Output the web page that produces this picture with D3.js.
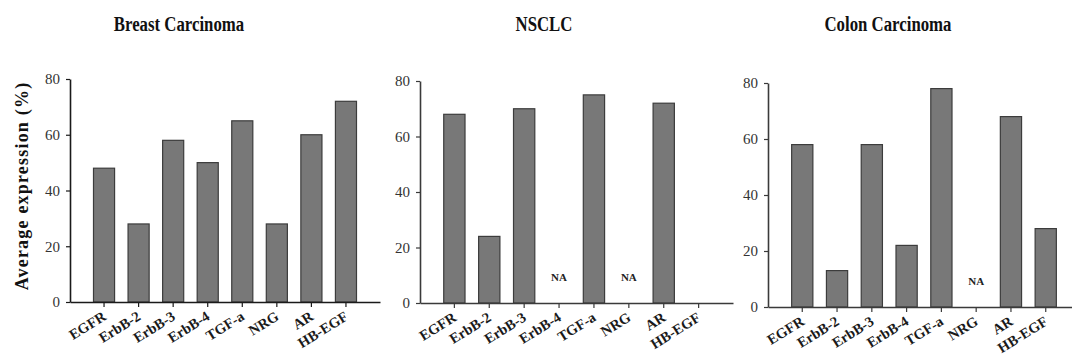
<!DOCTYPE html>
<html>
<head>
<meta charset="utf-8">
<script src="https://cdn.jsdelivr.net/npm/d3@7"></script>
<style>
  body { margin: 0; background: #fff; }
  svg { display: block; }
  text { font-family: "Liberation Serif", "DejaVu Serif", serif; }
</style>
</head>
<body>
<svg id="chart" width="1072" height="361"></svg>
<script>
// receptor / ligand categories
const markers = ["EGFR", "ErbB-2", "ErbB-3", "ErbB-4", "TGF-a", "NRG", "AR", "HB-EGF"];
const yTicks = [0, 20, 40, 60, 80];

// average expression (%) per tumour type, null = not available
const breastValues = [48, 28, 58, 50, 65, 28, 60, 72];
const nsclcValues  = [68, 24, 70, null, 75, null, 72, null];
const colonValues  = [58, 13, 58, 22, 78, null, 68, 28];

// which missing values are labelled "NA"
const nsclcNA = ["ErbB-4", "NRG"];
const colonNA = ["NRG"];

const panels = [
  { title: "Breast Carcinoma", values: breastValues, na: [], x0: 70, x1: 380, yTop: 79, yBot: 302, axisColor: "#1a1a1a", titleX: 179 },
  { title: "NSCLC", values: nsclcValues, na: nsclcNA, x0: 420, x1: 733, yTop: 81, yBot: 303, axisColor: "#3a3a3a", titleX: 544 },
  { title: "Colon Carcinoma", values: colonValues, na: colonNA, x0: 768, x1: 1080, yTop: 83, yBot: 307, axisColor: "#3a3a3a", titleX: 888 }
];

const svg = d3.select("#chart");

panels.forEach(p => {
  const g = svg.append("g");

  const x = d3.scaleBand()
    .domain(markers)
    .range([p.x0, p.x1])
    .paddingInner(0.39)
    .paddingOuter(0.68);

  const y = d3.scaleLinear()
    .domain([0, 80])
    .range([p.yBot, p.yTop]);

  // title
  g.append("text")
    .attr("x", p.titleX)
    .attr("y", 31)
    .attr("text-anchor", "middle")
    .style("font-size", "20px")
    .style("font-weight", "bold")
    .attr("fill", "#111")
    .attr("transform", `translate(${p.titleX},0) scale(0.84,1) translate(${-p.titleX},0)`)
    .text(p.title);

  // bars
  const data = markers.map((m, i) => ({ key: m, value: p.values[i] }));
  g.selectAll(".bar")
    .data(data.filter(d => d.value != null))
    .enter().append("rect")
    .attr("class", "bar")
    .attr("x", d => x(d.key))
    .attr("width", x.bandwidth())
    .attr("y", d => y(d.value))
    .attr("height", d => y(0) - y(d.value))
    .attr("fill", "#787878")
    .attr("stroke", "#3c3c3c")
    .attr("stroke-width", 1.2);

  // NA labels
  g.selectAll(".na")
    .data(p.na)
    .enter().append("text")
    .attr("class", "na")
    .attr("x", d => x(d) + x.bandwidth() / 2)
    .attr("y", y(8))
    .attr("text-anchor", "middle")
    .style("font-size", "11px")
    .style("font-weight", "bold")
    .attr("fill", "#222")
    .text("NA");

  // y axis
  const yAxis = g.append("g")
    .attr("transform", `translate(${p.x0},0)`)
    .call(d3.axisLeft(y).tickValues(yTicks).tickSize(4).tickPadding(6).tickSizeOuter(0));
  yAxis.select(".domain").attr("stroke", p.axisColor).attr("stroke-width", 1.6);
  yAxis.selectAll(".tick line").attr("stroke", p.axisColor).attr("stroke-width", 1.2);
  yAxis.selectAll(".tick text")
    .style("font-size", "15px")
    .style("font-family", "'Liberation Serif', serif")
    .attr("fill", "#333");

  // x axis
  const xAxis = g.append("g")
    .attr("transform", `translate(0,${p.yBot})`)
    .call(d3.axisBottom(x).tickSize(5).tickSizeOuter(0));
  xAxis.select(".domain").attr("stroke", p.axisColor).attr("stroke-width", 1.6);
  xAxis.selectAll(".tick line").attr("stroke", p.axisColor).attr("stroke-width", 1.2);
  xAxis.selectAll(".tick text")
    .style("font-size", "14.5px")
    .style("font-weight", "bold")
    .style("font-family", "'Liberation Serif', serif")
    .attr("fill", "#1a1a1a")
    .attr("text-anchor", "end")
    .attr("dy", "0")
    .attr("y", 0)
    .attr("transform", "translate(3,17) rotate(-32)");
});

// y axis title
svg.append("text")
  .attr("transform", "translate(28,186) rotate(-90)")
  .attr("text-anchor", "middle")
  .style("font-size", "18px")
  .style("font-weight", "bold")
  .style("letter-spacing", "1.2px")
  .attr("fill", "#111")
  .text("Average expression (%)");
</script>
</body>
</html>
